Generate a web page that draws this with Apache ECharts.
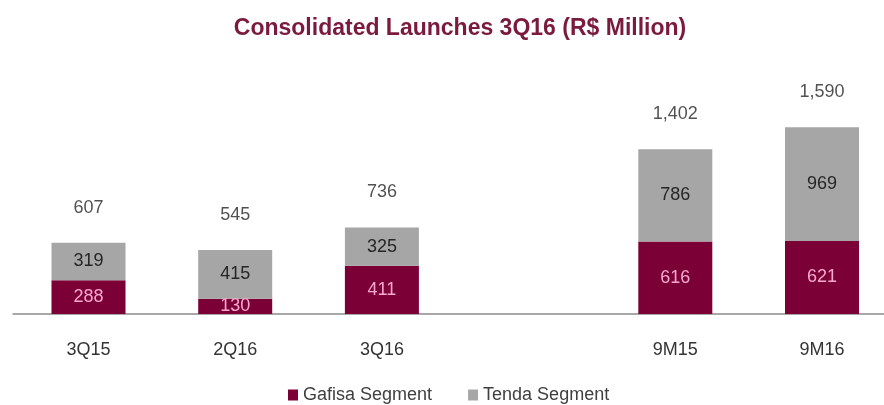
<!DOCTYPE html>
<html>
<head>
<meta charset="utf-8">
<script src="https://cdn.jsdelivr.net/npm/echarts@6/dist/echarts.min.js"></script>
<style>
html,body{margin:0;padding:0;background:#fff;}
#chart{width:884px;height:405px;}
</style>
</head>
<body>
<div id="chart"></div>
<script>
const categories = ['3Q15', '2Q16', '3Q16', '', '9M15', '9M16'];
const gafisa = [288, 130, 411, null, 616, 621];
const tenda = [319, 415, 325, null, 786, 969];
const totals = [607, 545, 736, null, 1402, 1590];
const seriesNames = ['Gafisa Segment', 'Tenda Segment'];
const titleText = 'Consolidated Launches 3Q16 (R$ Million)';

const FONT = '"Liberation Sans", Arial, sans-serif';
const chart = echarts.init(document.getElementById('chart'), null, {renderer: 'canvas'});
chart.setOption({
  animation: false,
  backgroundColor: '#ffffff',
  title: {
    text: titleText,
    left: 455, top: 12, textAlign: 'center',
    textStyle: {fontFamily: FONT, fontSize: 23, fontWeight: 'bold', color: '#7a1a3c'}
  },
  legend: {
    data: seriesNames,
    left: 283, top: 381,
    itemWidth: 10, itemHeight: 11, itemGap: 36,
    icon: 'rect',
    textStyle: {fontFamily: FONT, fontSize: 18, color: '#404040'}
  },
  grid: [
    {left: 88.5, right: 62, top: 79, bottom: 91, containLabel: false},
    {left: 13, right: 0, top: 79, bottom: 91, containLabel: false}
  ],
  xAxis: [
    {
      type: 'category', gridIndex: 0,
      data: categories, boundaryGap: false,
      axisLine: {show: false},
      axisTick: {show: false},
      splitLine: {show: false},
      axisLabel: {fontFamily: FONT, fontSize: 18, color: '#333', margin: 27}
    },
    {
      type: 'category', gridIndex: 1,
      data: categories,
      axisLine: {show: true, lineStyle: {color: '#8c8c8c', width: 1.5}},
      axisTick: {show: false},
      axisLabel: {show: false},
      splitLine: {show: false}
    }
  ],
  yAxis: [
    {type: 'value', gridIndex: 0, min: 0, max: 2000, show: false, splitLine: {show: false}},
    {type: 'value', gridIndex: 1, min: 0, max: 2000, show: false, splitLine: {show: false}}
  ],
  series: [
    {
      name: seriesNames[0], type: 'bar', stack: 'total', data: gafisa,
      barWidth: 74,
      itemStyle: {color: '#7b0035'},
      label: {show: true, position: 'inside', fontFamily: FONT, fontSize: 18, color: '#f7a8d0'}
    },
    {
      name: seriesNames[1], type: 'bar', stack: 'total', data: tenda,
      barWidth: 74,
      itemStyle: {color: '#a6a6a6'},
      label: {show: true, position: 'inside', fontFamily: FONT, fontSize: 18, color: '#262626'}
    },
    {
      name: 'Total', type: 'scatter', data: totals,
      symbolSize: 0, silent: true,
      label: {
        show: true, position: 'top', distance: 26,
        fontFamily: FONT, fontSize: 18, color: '#262626',
        formatter: p => p.value == null ? '' : Number(p.value).toLocaleString('en-US')
      }
    }
  ]
});
</script>
</body>
</html>
